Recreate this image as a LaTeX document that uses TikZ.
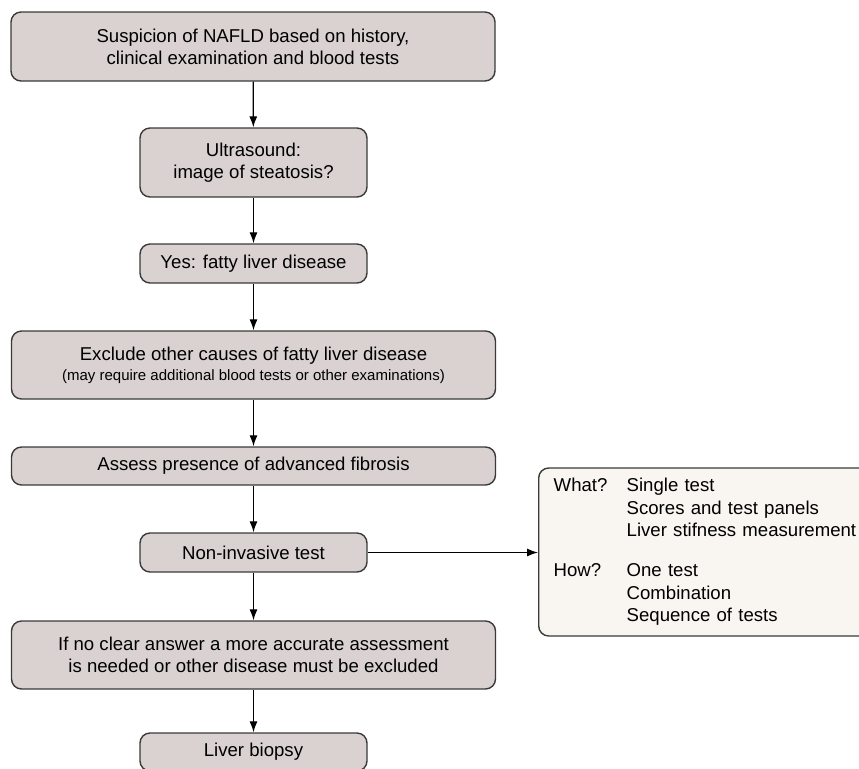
\documentclass[tikz,border=0pt]{standalone}
\usepackage{fontspec}
\setmainfont{Liberation Sans}
\usetikzlibrary{calc,arrows.meta}

\definecolor{boxfill}{RGB}{217,210,208}
\definecolor{notefill}{RGB}{249,246,241}
\definecolor{boxline}{RGB}{58,58,58}

\tikzset{
  stepbox/.style={draw=boxline,line width=0.7pt,fill=boxfill,rounded corners=5pt,
    align=center,inner sep=0pt,font=\fontsize{9.3}{11}\selectfont},
  widebox/.style={stepbox,minimum width=242pt},
  narrowbox/.style={stepbox,minimum width=113.5pt},
  notebox/.style={draw=boxline,line width=0.7pt,fill=notefill,rounded corners=5pt,
    anchor=west,minimum width=166pt,minimum height=84pt,inner xsep=7.5pt,
    text width=151pt,align=left,font=\fontsize{9.3}{11.25}\selectfont},
}

\begin{document}
\begin{tikzpicture}[x=0.5pt,y=-0.5pt,>={Latex[length=5.5pt,width=4pt]}]
                \useasboundingbox (0,0) rectangle (859,768);

                \node[widebox,minimum height=34.5pt] (susp) at (253,46.5)
                    {Suspicion of NAFLD based on history,\\ clinical examination and blood tests};
                \node[narrowbox,minimum height=34.5pt] (us) at (253.5,162.5)
                    {Ultrasound:\\ image of steatosis?};
                \node[narrowbox,minimum height=19.5pt] (yes) at (253.5,263.5)
                    {Yes: fatty liver disease};
                \node[widebox,minimum height=34pt] (excl) at (253.5,365)
                    {Exclude other causes of fatty liver disease\\[-1pt]
                     {\fontsize{7.5}{9}\selectfont (may require additional blood tests or other examinations)}};
                \node[widebox,minimum height=19pt] (assess) at (253.5,466)
                    {Assess presence of advanced fibrosis};
                \node[narrowbox,minimum height=19.5pt] (nit) at (253.5,552.5)
                    {Non-invasive test};
                \node[widebox,minimum height=34pt] (unclear) at (253.5,655)
                    {If no clear answer a more accurate assessment\\ is needed or other disease must be excluded};
                \node[narrowbox,minimum height=19pt] (biopsy) at (253.5,752)
                    {Liver biopsy};

                \node[notebox] (what) at (538,552) {%
                    \begin{tabular}{@{}p{36.5pt}@{}l@{}}
                    What? & Single test\\
                          & Scores and test panels\\
                          & Liver stifness measurement\\[8.75pt]
                    How?  & One test\\
                          & Combination\\
                          & Sequence of tests
                    \end{tabular}};

                \draw[->,line width=0.6pt] (susp) -- (us);
                \draw[->,line width=0.6pt] (us) -- (yes);
                \draw[->,line width=0.6pt] (yes) -- (excl);
                \draw[->,line width=0.6pt] (excl) -- (assess);
                \draw[->,line width=0.6pt] (assess) -- (nit);
                \draw[->,line width=0.6pt] (nit) -- (unclear);
                \draw[->,line width=0.6pt] (unclear) -- (biopsy);
                \draw[->,line width=0.6pt] (nit.east) -- (nit.east -| what.west);
            \end{tikzpicture}
\end{document}
